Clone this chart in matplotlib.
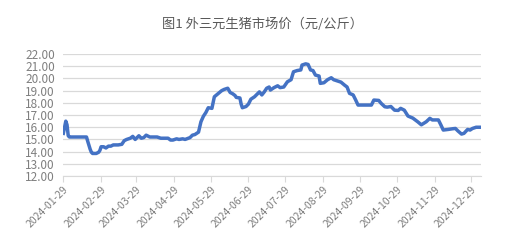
import matplotlib
matplotlib.use("Agg")
import matplotlib.pyplot as plt
import pandas as pd

plt.rcParams["font.family"] = ["Noto Sans CJK SC", "DejaVu Sans"]

title = "图1 外三元生猪市场价（元/公斤）"
start_date = "2024-01-29"

# days after 2024-01-29
day_offsets = [
    0, 1, 2, 3, 4, 5, 10, 15, 19, 20, 22, 23, 24, 27, 29, 30, 31, 33, 35, 37,
    39, 41, 45, 48, 50, 52, 55, 57, 59, 62, 64, 66, 68, 71, 77, 80, 84, 86, 88, 90,
    93, 95, 98, 100, 104, 106, 108, 111, 113, 115, 117, 119, 122, 124, 127, 130, 132, 135, 137, 139,
    141, 142, 145, 146, 147, 150, 152, 154, 157, 161, 163, 165, 167, 169, 170, 173, 176, 178, 181, 184,
    187, 189, 192, 195, 196, 199, 201, 203, 205, 207, 210, 211, 214, 217, 220, 222, 225, 228, 231, 233,
    235, 238, 240, 242, 248, 253, 255, 259, 261, 264, 266, 269, 272, 275, 277, 280, 283, 287, 291, 294,
    298, 301, 303, 308, 310, 312, 316, 320, 322, 324, 327, 329, 332, 334, 336, 339, 343,
]
prices = [
    15.5, 16.0, 16.5, 16.2, 15.3, 15.2, 15.2, 15.2, 15.2, 14.85, 14.2, 13.95, 13.85, 13.85, 13.95, 14.1, 14.4, 14.4, 14.3, 14.45,
    14.45, 14.55, 14.55, 14.6, 14.9, 15.0, 15.1, 15.25, 15.0, 15.3, 15.1, 15.15, 15.35, 15.2, 15.2, 15.1, 15.1, 15.1, 14.95, 14.95,
    15.05, 15.0, 15.05, 15.0, 15.15, 15.35, 15.4, 15.6, 16.45, 16.9, 17.2, 17.6, 17.55, 18.5, 18.75, 19.0, 19.1, 19.2, 18.85, 18.75,
    18.6, 18.45, 18.4, 17.9, 17.6, 17.7, 17.9, 18.3, 18.5, 18.9, 18.65, 18.9, 19.2, 19.3, 19.05, 19.25, 19.4, 19.25, 19.3, 19.73,
    19.9, 20.55, 20.65, 20.7, 21.1, 21.2, 21.15, 20.7, 20.65, 20.28, 20.2, 19.6, 19.65, 19.9, 20.06, 19.9, 19.8, 19.7, 19.45, 19.3,
    18.78, 18.65, 18.25, 17.82, 17.82, 17.82, 18.23, 18.2, 17.96, 17.68, 17.65, 17.7, 17.4, 17.38, 17.55, 17.4, 16.92, 16.75, 16.45, 16.2,
    16.45, 16.73, 16.6, 16.6, 16.2, 15.77, 15.82, 15.88, 15.9, 15.7, 15.44, 15.5, 15.82, 15.77, 15.9, 16.0, 16.0,
]
tick_dates = [
    "2024-01-29", "2024-02-29", "2024-03-29", "2024-04-29", "2024-05-29", "2024-06-29",
    "2024-07-29", "2024-08-29", "2024-09-29", "2024-10-29", "2024-11-29", "2024-12-29",
]
y_ticks = [12, 13, 14, 15, 16, 17, 18, 19, 20, 21, 22]

dates = pd.Timestamp(start_date) + pd.to_timedelta(day_offsets, unit="D")
ticks = pd.to_datetime(tick_dates)

fig = plt.figure(figsize=(5.28, 2.47), dpi=100)
ax = fig.add_axes([0.12, 0.2874, 0.791, 0.4936])

ax.plot(dates, prices, color="#4472C4", linewidth=2.5, solid_joinstyle="round")

ax.set_xlim(dates[0], dates[-1])
ax.set_ylim(12, 22)
ax.set_yticks(y_ticks)
ax.set_yticklabels([f"{v:.2f}" for v in y_ticks])
ax.set_xticks(ticks)
ax.set_xticklabels(tick_dates, rotation=45, ha="right", rotation_mode="anchor")

ax.grid(axis="y", color="#D9D9D9", linewidth=0.9)
ax.set_axisbelow(True)
for side in ["left", "right", "top"]:
    ax.spines[side].set_visible(False)
ax.spines["bottom"].set_color("#D9D9D9")
ax.tick_params(axis="y", length=0, labelsize=8.5, labelcolor="#7F7F7F", pad=6)
ax.tick_params(axis="x", length=4, color="#D9D9D9", labelsize=7.5, labelcolor="#7F7F7F", pad=2)

fig.text(0.497, 0.9, title, ha="center", va="center", fontsize=9.5, color="#595959")

fig.savefig("out.png", dpi=100)
